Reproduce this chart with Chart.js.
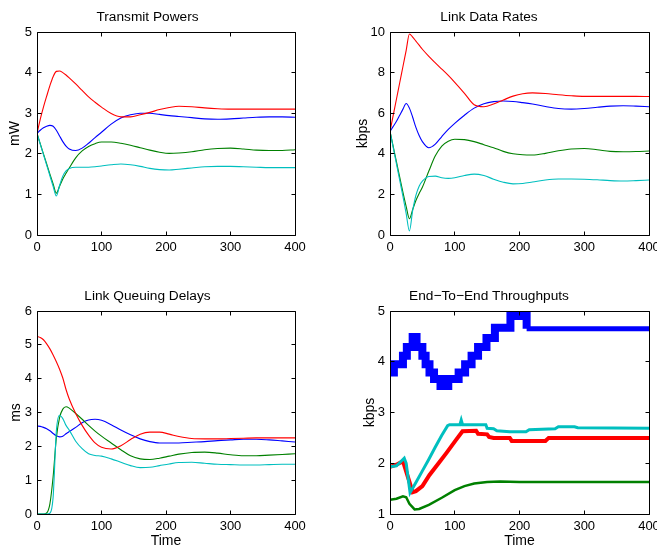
<!DOCTYPE html>
<html>
<head>
<meta charset="utf-8">
<script src="https://cdn.jsdelivr.net/npm/chart.js@4.4.1/dist/chart.umd.min.js"></script>
<style>
html, body { margin: 0; padding: 0; background: #fff; }
body { position: relative; width: 657px; height: 550px; overflow: hidden; }
canvas { position: absolute; }
</style>
</head>
<body>
<canvas id="power" width="329" height="265" style="left:0;top:0"></canvas>
<canvas id="rate" width="328" height="265" style="left:329px;top:0"></canvas>
<canvas id="delay" width="329" height="271" style="left:0;top:279px"></canvas>
<canvas id="thru" width="328" height="271" style="left:329px;top:279px"></canvas>
<script>
// time samples shared by the three smooth plots
const timeGrid = [0,5,10,15,20,25,30,35,40,45,50,60,70,80,90,100,115,130,145,160,175,190,205,220,240,260,280,300,320,340,360,380,400]

// Transmit Powers (mW)
const powerRed   = [2.5,2.85,3.15,3.42,3.68,3.9,4.03,4.04,4.0,3.94,3.87,3.72,3.56,3.4,3.27,3.15,2.99,2.91,2.91,2.96,3.02,3.09,3.14,3.17,3.16,3.13,3.11,3.1,3.1,3.1,3.1,3.1,3.1]
const powerBlue  = [2.5,2.58,2.64,2.68,2.7,2.68,2.58,2.44,2.3,2.19,2.12,2.08,2.14,2.26,2.4,2.53,2.73,2.88,2.96,3.0,3.0,2.97,2.94,2.92,2.89,2.86,2.85,2.86,2.88,2.9,2.91,2.91,2.9]
const powerGreen = [2.5,2.25,2.0,1.75,1.5,1.26,1.03,1.2,1.38,1.52,1.65,1.9,2.07,2.18,2.25,2.29,2.29,2.26,2.21,2.15,2.09,2.04,2.01,2.02,2.05,2.1,2.13,2.14,2.12,2.09,2.08,2.08,2.1]
const powerCyan  = [2.5,2.24,1.98,1.72,1.46,1.2,0.96,1.22,1.45,1.58,1.64,1.67,1.67,1.67,1.68,1.7,1.73,1.75,1.73,1.69,1.64,1.61,1.6,1.62,1.65,1.68,1.69,1.69,1.68,1.67,1.66,1.66,1.66]

// Link Data Rates (kbps)
const rateRed   = [5.1,5.9,6.7,7.5,8.3,9.1,9.9,9.75,9.55,9.35,9.15,8.8,8.48,8.17,7.86,7.52,6.98,6.42,6.32,6.45,6.65,6.84,6.96,7.0,6.97,6.91,6.86,6.83,6.83,6.83,6.83,6.83,6.82]
const rateBlue  = [5.1,5.35,5.6,5.9,6.2,6.48,6.25,5.8,5.3,4.9,4.6,4.3,4.48,4.85,5.2,5.5,5.9,6.25,6.47,6.57,6.6,6.58,6.52,6.45,6.33,6.23,6.2,6.23,6.29,6.35,6.37,6.35,6.32]
const rateGreen = [5.1,4.35,3.6,2.85,2.1,1.4,0.8,1.25,1.7,2.05,2.35,3.15,3.9,4.38,4.62,4.72,4.7,4.6,4.45,4.3,4.12,4.0,3.95,3.94,4.02,4.15,4.24,4.26,4.2,4.12,4.1,4.11,4.14]
const rateCyan  = [5.1,4.3,3.5,2.7,1.9,1.05,0.2,1.2,1.95,2.4,2.65,2.88,2.9,2.82,2.79,2.82,2.93,3.0,2.93,2.75,2.6,2.52,2.54,2.61,2.71,2.76,2.76,2.75,2.72,2.68,2.66,2.68,2.71]

// Link Queuing Delays (ms)
const delayRed   = [5.25,5.22,5.15,5.03,4.88,4.7,4.5,4.28,4.02,3.68,3.4,2.97,2.62,2.33,2.1,1.97,1.92,2.02,2.2,2.36,2.42,2.42,2.36,2.29,2.23,2.22,2.22,2.23,2.24,2.25,2.25,2.25,2.25]
const delayBlue  = [2.6,2.59,2.56,2.52,2.46,2.38,2.31,2.28,2.3,2.37,2.44,2.56,2.7,2.78,2.8,2.77,2.64,2.48,2.34,2.22,2.14,2.1,2.1,2.1,2.12,2.14,2.17,2.19,2.21,2.21,2.19,2.16,2.13]
const delayGreen = [0,0,0,0.03,0.3,1.1,2.25,2.85,3.1,3.17,3.13,2.97,2.8,2.62,2.45,2.3,2.1,1.9,1.72,1.63,1.61,1.65,1.71,1.77,1.82,1.83,1.8,1.75,1.72,1.72,1.74,1.76,1.78]
const delayCyan  = [0,0,0,0,0.02,0.5,2.45,2.92,2.82,2.62,2.48,2.15,1.93,1.78,1.73,1.71,1.63,1.53,1.43,1.37,1.38,1.43,1.48,1.52,1.53,1.5,1.47,1.46,1.45,1.45,1.46,1.47,1.47]

// End-To-End Throughputs (kbps), each series with its own times
const thruBlueT  = [0,6,20,26,35,41,50,55,61,68,78,90,106,116,126,136,149,162,186,211,400]
const thruBlue   = [3.79,3.95,4.12,4.29,4.49,4.29,4.12,3.95,3.79,3.66,3.52,3.66,3.79,3.95,4.12,4.29,4.47,4.67,4.9,4.65,4.65]
const thruRedT   = [0,10,20,35,40,50,61,75,87,102,112,133,136,150,153,160,185,188,240,245,400]
const thruRed    = [1.93,1.97,2.04,1.43,1.45,1.55,1.77,2.0,2.2,2.46,2.63,2.64,2.58,2.57,2.52,2.5,2.5,2.44,2.44,2.5,2.5]
const thruCyanT  = [0,10,18,22,25,31,40,50,60,70,80,89,92,108,110,112,148,150,160,165,185,210,215,255,260,285,290,400]
const thruCyan   = [1.93,1.95,2.05,2.1,2.0,1.42,1.62,1.85,2.08,2.32,2.55,2.74,2.76,2.76,2.85,2.76,2.76,2.69,2.68,2.64,2.62,2.62,2.66,2.68,2.72,2.72,2.7,2.69]
const thruGreenT = [0,10,20,25,30,38,45,60,80,100,115,130,150,170,200,250,300,400]
const thruGreen  = [1.28,1.3,1.35,1.33,1.2,1.09,1.1,1.18,1.32,1.47,1.55,1.6,1.63,1.64,1.63,1.63,1.63,1.63]

const xTicks = [0,100,200,300,400]

const BLUE = '#0000ff', GREEN = '#008000', RED = '#ff0000', CYAN = '#00bfbf'
const FONT = '"Liberation Sans", Arial, Helvetica, sans-serif'
Chart.defaults.font.family = FONT
Chart.defaults.color = '#000'

const pts = (xs, ys) => xs.map((x, i) => ({x: x, y: ys[i]}))

// matlab style box with inward ticks on all four sides
const boxPlugin = {
  id: 'box',
  afterDatasetsDraw(chart) {
    const {ctx, chartArea: a, scales} = chart
    const L = Math.floor(a.left) + 0.5, R = Math.floor(a.right) + 0.5
    const T = Math.floor(a.top) + 0.5, B = Math.floor(a.bottom) + 0.5
    ctx.save()
    ctx.strokeStyle = '#000'
    ctx.lineWidth = 1
    ctx.beginPath()
    ctx.rect(L, T, R - L, B - T)
    scales.x.ticks.forEach(t => {
      const px = Math.floor(scales.x.getPixelForValue(t.value)) + 0.5
      ctx.moveTo(px, B); ctx.lineTo(px, B - 4)
      ctx.moveTo(px, T); ctx.lineTo(px, T + 4)
    })
    scales.y.ticks.forEach(t => {
      const py = Math.floor(scales.y.getPixelForValue(t.value)) + 0.5
      ctx.moveTo(L, py); ctx.lineTo(L + 4, py)
      ctx.moveTo(R, py); ctx.lineTo(R - 4, py)
    })
    ctx.stroke()
    ctx.restore()
  }
}

function makeChart(id, p, datasets) {
  return new Chart(document.getElementById(id), {
    type: 'line',
    data: {datasets: datasets},
    options: {
      responsive: false,
      animation: false,
      events: [],
      layout: {padding: {left: 0, top: 0, right: p.padRight, bottom: 0}},
      elements: {point: {radius: 0}},
      plugins: {
        legend: {display: false},
        tooltip: {enabled: false},
        title: {
          display: true, text: p.title, color: '#000',
          font: {size: 13.7, weight: 'normal', family: FONT},
          padding: {top: 9.3, bottom: 6.26}
        }
      },
      scales: {
        x: {
          type: 'linear', min: 0, max: 400,
          afterBuildTicks: s => { s.ticks = xTicks.map(v => ({value: v})) },
          ticks: {padding: 5, color: '#000', font: {size: 13}, maxRotation: 0, autoSkip: false},
          grid: {display: false, drawTicks: false},
          border: {display: false},
          title: {display: !!p.xLabel, text: p.xLabel || '', color: '#000', font: {size: 14}, padding: {top: 0, bottom: 0}},
          afterFit: s => { s.height = p.xAxisH; s.paddingLeft = 0; s.paddingRight = 0 }
        },
        y: {
          type: 'linear', min: p.yMin, max: p.yMax,
          afterBuildTicks: s => { s.ticks = p.yTicks.map(v => ({value: v})) },
          ticks: {padding: 5, color: '#000', font: {size: 13}},
          grid: {display: false, drawTicks: false},
          border: {display: false},
          title: {display: true, text: p.yLabel, color: '#000', font: {size: 14}, padding: {top: p.yTitlePad, bottom: 0}},
          afterFit: s => { s.width = p.yAxisW; s.paddingTop = 0; s.paddingBottom = 0 }
        }
      }
    },
    plugins: [boxPlugin]
  })
}

function smooth(data, color) {
  return {data: pts(timeGrid, data), borderColor: color, borderWidth: 1.1, cubicInterpolationMode: 'monotone', fill: false}
}

makeChart('power', {
  title: 'Transmit Powers', yLabel: 'mW', yMin: 0, yMax: 5, yTicks: [0,1,2,3,4,5],
  yAxisW: 37, xAxisH: 30, padRight: 34, yTitlePad: 6.6
}, [smooth(powerCyan, CYAN), smooth(powerRed, RED), smooth(powerGreen, GREEN), smooth(powerBlue, BLUE)])

makeChart('rate', {
  title: 'Link Data Rates', yLabel: 'kbps', yMin: 0, yMax: 10, yTicks: [0,2,4,6,8,10],
  yAxisW: 61, xAxisH: 30, padRight: 8, yTitlePad: 25.3
}, [smooth(rateCyan, CYAN), smooth(rateRed, RED), smooth(rateGreen, GREEN), smooth(rateBlue, BLUE)])

makeChart('delay', {
  title: 'Link Queuing Delays', yLabel: 'ms', xLabel: 'Time', yMin: 0, yMax: 6, yTicks: [0,1,2,3,4,5,6],
  yAxisW: 37, xAxisH: 36, padRight: 34, yTitlePad: 7.6
}, [smooth(delayCyan, CYAN), smooth(delayRed, RED), smooth(delayGreen, GREEN), smooth(delayBlue, BLUE)])

makeChart('thru', {
  title: 'End\u2212To\u2212End Throughputs', yLabel: 'kbps', xLabel: 'Time', yMin: 1, yMax: 5, yTicks: [1,2,3,4,5],
  yAxisW: 61, xAxisH: 36, padRight: 8, yTitlePad: 32.6
}, [
  {data: pts(thruCyanT, thruCyan), borderColor: CYAN, borderWidth: 3, tension: 0, fill: false},
  {data: pts(thruRedT, thruRed), borderColor: RED, borderWidth: 4, tension: 0, fill: false},
  {data: pts(thruGreenT, thruGreen), borderColor: GREEN, borderWidth: 2.5, tension: 0, fill: false},
  {data: pts(thruBlueT, thruBlue), borderColor: BLUE, stepped: true, borderCapStyle: 'butt', borderJoinStyle: 'miter', fill: false,
   borderWidth: 8, segment: {borderWidth: c => c.p0.parsed.x >= 211 ? 5 : 8}}
])
</script>
</body>
</html>
